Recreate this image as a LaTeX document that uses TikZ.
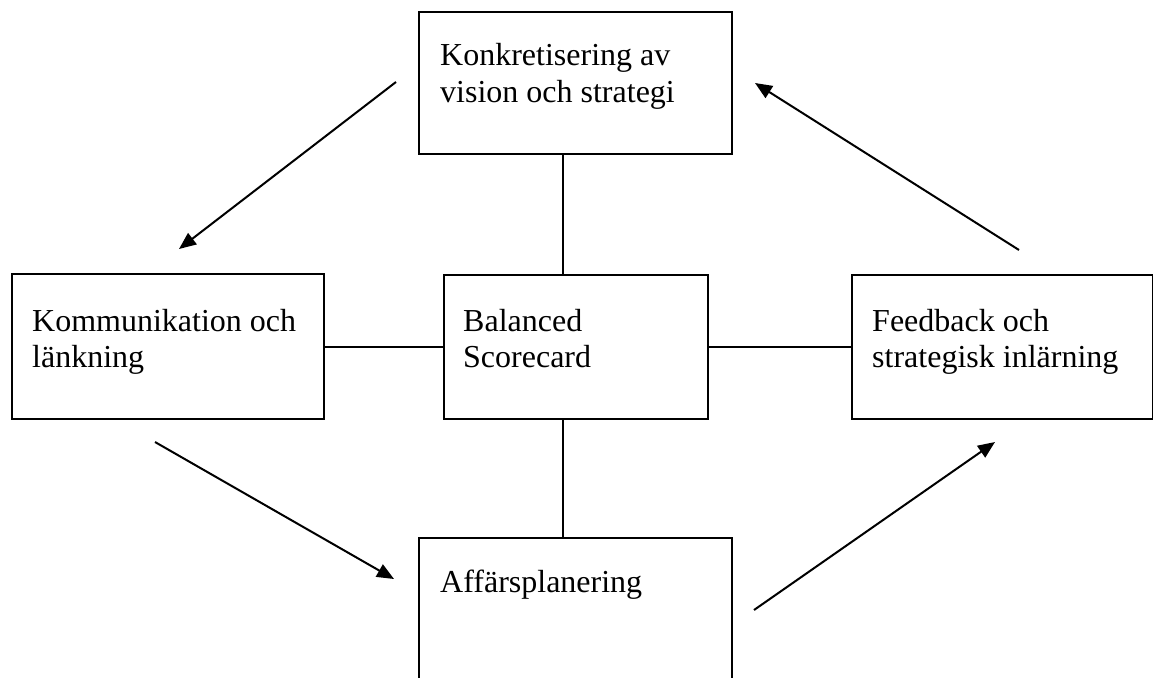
\documentclass[tikz,border=0pt]{standalone}
\usepackage{fontspec}
\setmainfont{Liberation Serif}
\usetikzlibrary{arrows.meta}
\begin{document}
\begin{tikzpicture}[x=1pt,y=-1pt,
  frame/.style={draw=black, line width=2pt, inner sep=0pt, anchor=north west},
  label/.style={anchor=base west, inner sep=0pt, align=left,
    font=\fontsize{32}{36}\selectfont},
  link/.style={line width=2pt},
  flow/.style={line width=2pt, -{Triangle[length=17pt,width=14pt]}}]
\useasboundingbox (0,0) rectangle (1153,677);
\clip (0,0) rectangle (1153,677);
\fill[white] (0,0) rectangle (1153,677);

% boxes
\node[frame, minimum width=313pt, minimum height=142pt] (vision) at (418,11) {};
\node[frame, minimum width=312pt, minimum height=145pt] (komm) at (11,273) {};
\node[frame, minimum width=264pt, minimum height=144pt] (bsc) at (443,274) {};
\node[frame, minimum width=301pt, minimum height=144pt] (feed) at (851,274) {};
\node[frame, minimum width=313pt, minimum height=180pt] (aff) at (418,537) {};

% texts (anchored on the baseline of their last line)
\node[label] (visiontext) at (440,102) {Konkretisering av\\vision och strategi};
\node[label] (kommtext) at (32,367) {Kommunikation och\\länkning};
\node[label] (bsctext) at (463,367) {Balanced\\Scorecard};
\node[label] (feedtext) at (872,367) {Feedback och\\strategisk inlärning};
\node[label] (afftext) at (440,592) {Affärsplanering};

% links to the centre
\coordinate (vx) at (563,0);
\draw[link] (vision.south -| vx) -- (bsc.north -| vx);
\draw[link] (bsc.south -| vx) -- (aff.north -| vx);
\draw[link] (bsc.west) -- (bsc.west -| komm.east);
\draw[link] (bsc.east) -- (feed.west);

% cycle arrows
\coordinate (a1s) at (396,82);  \coordinate (a1e) at (179,249);
\coordinate (a2s) at (155,442); \coordinate (a2e) at (394,579);
\coordinate (a3s) at (754,610); \coordinate (a3e) at (995,442);
\coordinate (a4s) at (1019,250);\coordinate (a4e) at (755,83);
\draw[flow] (a1s) -- (a1e);
\draw[flow] (a2s) -- (a2e);
\draw[flow] (a3s) -- (a3e);
\draw[flow] (a4s) -- (a4e);
\end{tikzpicture}
\end{document}
